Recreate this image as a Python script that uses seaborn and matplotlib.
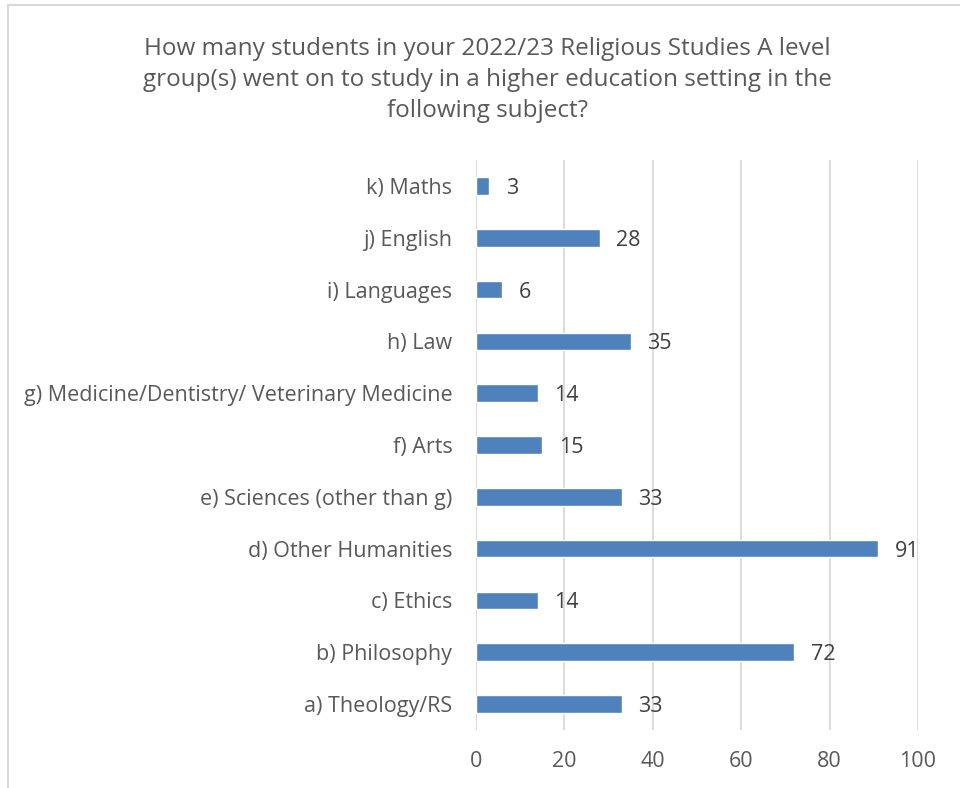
import matplotlib
matplotlib.use("Agg")
import matplotlib.pyplot as plt
import seaborn as sns
import pandas as pd
from matplotlib.patches import Rectangle

categories = [
    "k) Maths",
    "j) English",
    "i) Languages",
    "h) Law",
    "g) Medicine/Dentistry/ Veterinary Medicine",
    "f) Arts",
    "e) Sciences (other than g)",
    "d) Other Humanities",
    "c) Ethics",
    "b) Philosophy",
    "a) Theology/RS",
]
counts = [3, 28, 6, 35, 14, 15, 33, 91, 14, 72, 33]
x_ticks = [0, 20, 40, 60, 80, 100]

title = ("How many students in your 2022/23 Religious Studies A level\n"
         "group(s) went on to study in a higher education setting in the\n"
         "following subject?")

sns.set_theme(style="white")
plt.rcParams["font.family"] = ["Open Sans", "DejaVu Sans"]

df = pd.DataFrame({"subject": categories, "students": counts})

fig = plt.figure(figsize=(9.6, 7.88), dpi=100)
ax = fig.add_axes([0.4958, 0.0736, 0.4604, 0.7234])

sns.barplot(data=df, x="students", y="subject", orient="h", color="#4F81BD",
            width=0.34, saturation=1, ax=ax, zorder=3)

ax.set_xlim(0, 100)
ax.set_ylim(len(categories) - 0.5, -0.5)
ax.set_xticks(x_ticks)
ax.xaxis.grid(True, color="#D9D9D9", linewidth=1.3, zorder=0)
ax.set_axisbelow(True)
for s in ax.spines.values():
    s.set_visible(False)
ax.axvline(0, color="#D9D9D9", linewidth=1.3, zorder=1)
ax.set_xlabel("")
ax.set_ylabel("")
ax.tick_params(axis="both", length=0, labelsize=15.5, colors="#595959")
ax.tick_params(axis="y", pad=17)
ax.tick_params(axis="x", pad=15)

value_labels = ax.bar_label(ax.containers[0], labels=[str(v) for v in counts],
                            padding=12, fontsize=15.5, color="#404040")
for t in value_labels:
    t.set_va("center_baseline")

fig.text(0.508, 0.8985, title, ha="center", va="center", fontsize=17.5,
         color="#595959", linespacing=1.4)

# chart frame
fig.patches.append(Rectangle((8 / 960, -0.1), 1.2, 1 - 5 / 788 + 0.1,
                             transform=fig.transFigure, fill=False,
                             edgecolor="#D9D9D9", linewidth=1.5))

fig.savefig("out.png", dpi=100)
